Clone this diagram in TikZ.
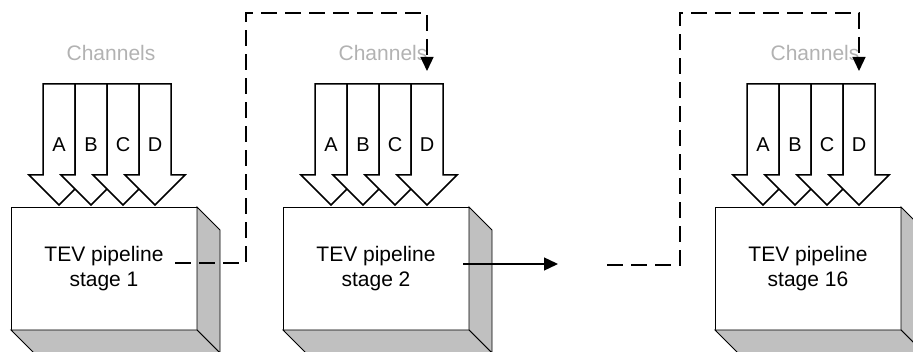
\documentclass[tikz,border=0pt]{standalone}
\usepackage{fontspec}
\setmainfont{Liberation Sans}
\usetikzlibrary{arrows.meta}

\definecolor{sidegray}{RGB}{192,192,192}
\definecolor{chgray}{RGB}{178,178,178}

\tikzset{
  stagebox/.style={draw, fill=white, line width=0.9pt, minimum width=186pt,
    minimum height=123pt, outer sep=0pt, inner sep=0pt, align=center,
    font=\fontsize{21}{25}\selectfont},
  depthface/.style={draw, fill=sidegray, line width=0.9pt},
  chanarrow/.style={draw, fill=white, line width=1.5pt},
  chanletter/.style={font=\fontsize{20}{24}\selectfont, anchor=base, inner sep=0pt},
  chanlabel/.style={text=chgray, font=\fontsize{21}{25}\selectfont, anchor=base, inner sep=0pt},
  link/.style={line width=1.3pt, -{Triangle[width=13pt,length=14pt]}},
  dashlink/.style={link, dash pattern=on 16pt off 8pt},
}

\begin{document}
\begin{tikzpicture}[x=1pt, y=-1pt]
  \clip (0,0) rectangle (913,352);

  % the three pipeline stages
  \foreach \name/\bx/\num in {s1/11/1, s2/283/2, s16/715/16} {
    \node[stagebox, anchor=north west] (\name) at (\bx,207) {TEV pipeline\\stage \num};
    % side and bottom faces
    \draw[depthface] (\name.north east) -- ++(23,23) -- ++(0,123) -- (\name.south east) -- cycle;
    \draw[depthface] (\name.south west) -- (\name.south east) -- ++(23,23) -- ++(-186,0) -- cycle;
    % channel inputs
    \node[chanlabel] (\name-ch) at (\bx+100,61) {Channels};
    \foreach \ch [count=\i from 0] in {A,B,C,D} {
      \pgfmathsetmacro{\sx}{\bx+32+32*\i}
      \draw[chanarrow] (\sx,84) -- (\sx,175) -- ++(-14,0) -- (\sx+16,205)
        -- (\sx+46,175) -- (\sx+32,175) -- (\sx+32,84) -- cycle;
      \node[chanletter] (\name-\ch) at (\sx+16,152) {\ch};
    }
  }

  % connectors
  \coordinate (s1-out) at (175,263);
  \coordinate (s2-in) at (s2-D |- 0,71);
  \coordinate (s2-out) at (463,264);
  \coordinate (gap) at (558,264);
  \coordinate (resume) at (607,265);
  \coordinate (s16-in) at (s16-D |- 0,71);

  \draw[dashlink] (s1-out) -- (246,263) -- (246,13) -- (s2-in |- 0,13) -- (s2-in);
  \draw[link] (s2-out) -- (gap);
  \draw[dashlink] (resume) -- (680,265) -- (680,13) -- (s16-in |- 0,13) -- (s16-in);
\end{tikzpicture}
\end{document}
